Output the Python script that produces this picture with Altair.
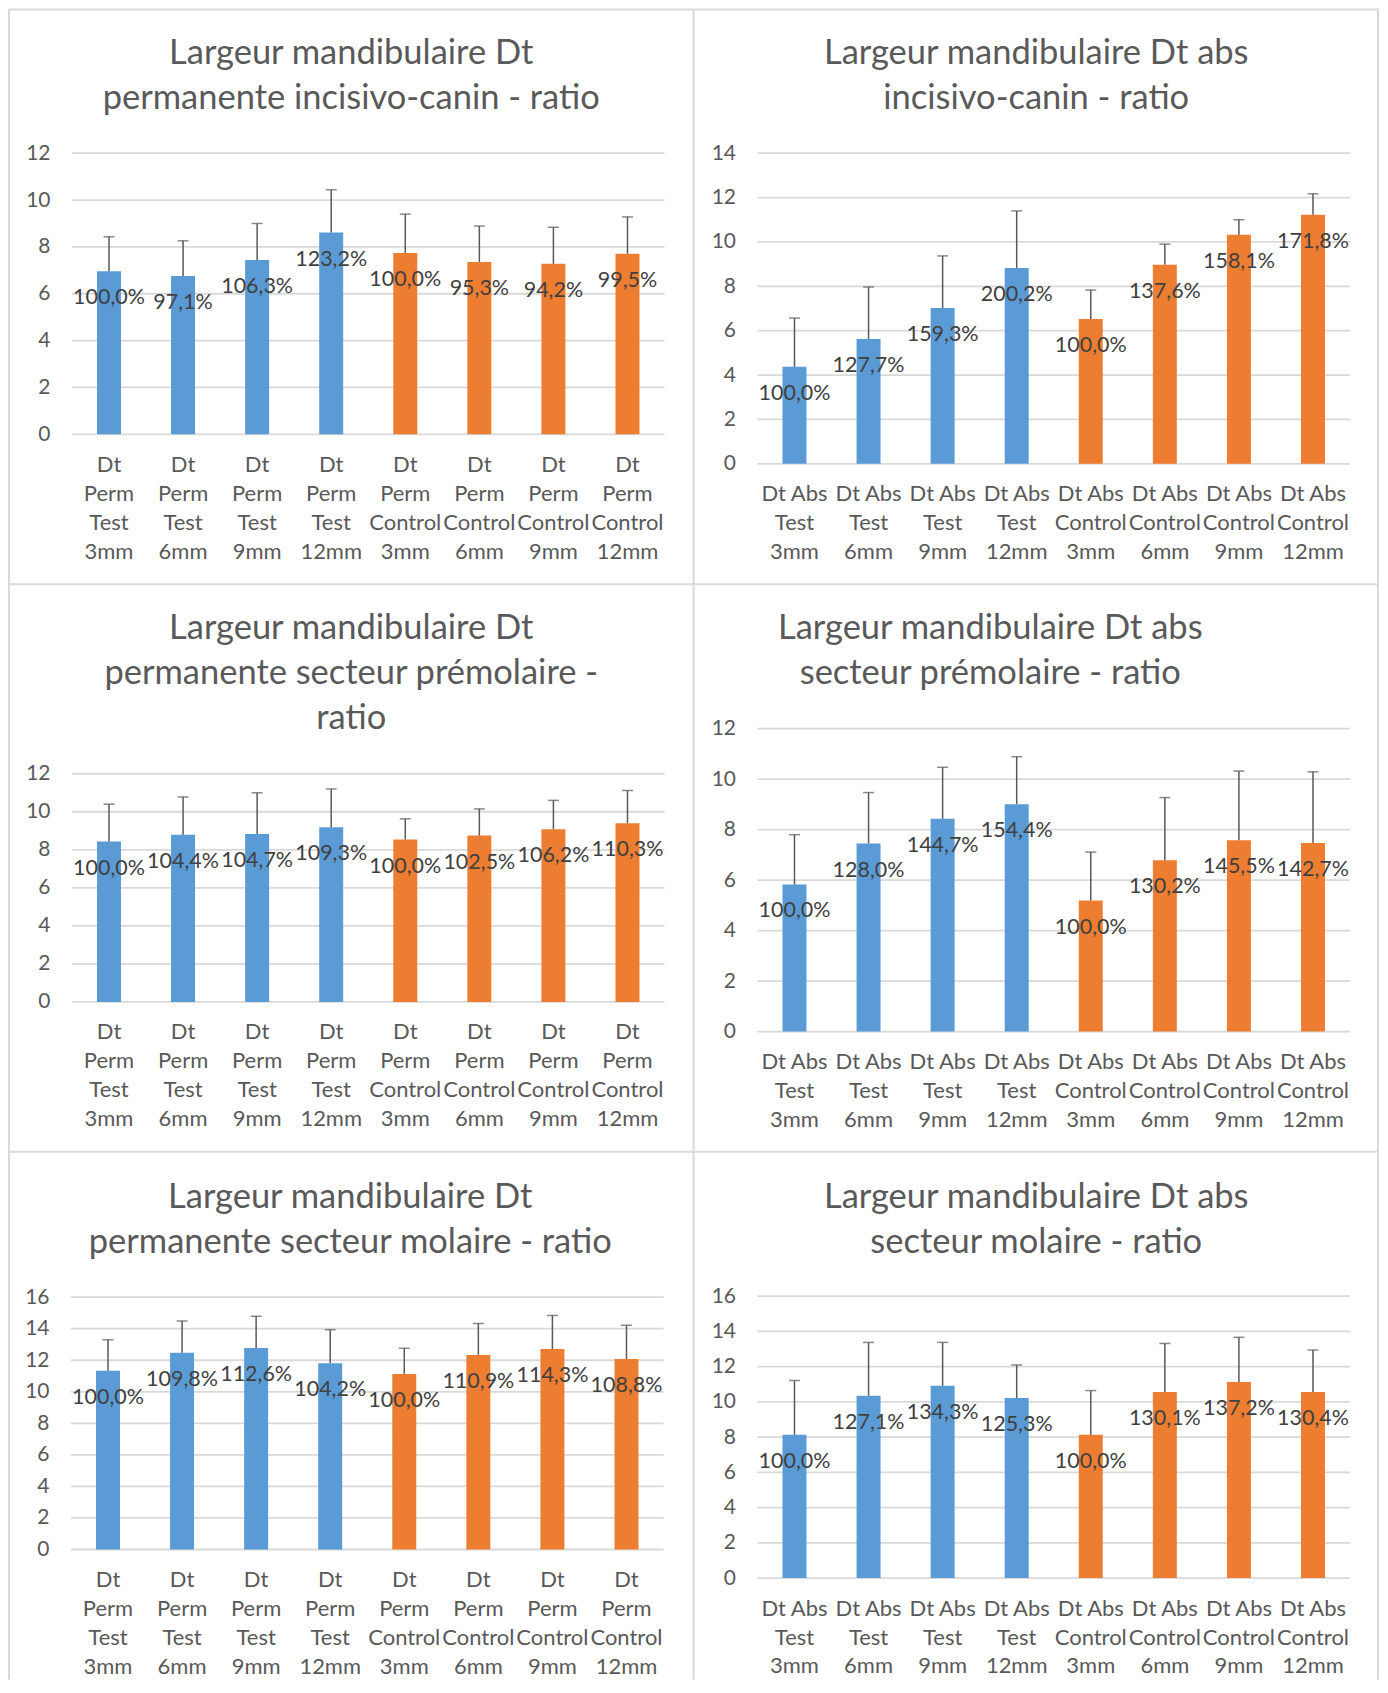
import altair as alt
import pandas as pd

FONT = "Lato"
BLUE = "#5B9BD5"
ORANGE = "#ED7D31"
TXT = "#595959"
LBL = "#404040"
GRID = "#D9D9D9"

GROUPS = ["Test"] * 4 + ["Control"] * 4
CATS_PERM = [
    "Dt\nPerm\nTest\n3mm", "Dt\nPerm\nTest\n6mm", "Dt\nPerm\nTest\n9mm", "Dt\nPerm\nTest\n12mm",
    "Dt\nPerm\nControl\n3mm", "Dt\nPerm\nControl\n6mm", "Dt\nPerm\nControl\n9mm", "Dt\nPerm\nControl\n12mm",
]
CATS_ABS = [
    "Dt Abs\nTest\n3mm", "Dt Abs\nTest\n6mm", "Dt Abs\nTest\n9mm", "Dt Abs\nTest\n12mm",
    "Dt Abs\nControl\n3mm", "Dt Abs\nControl\n6mm", "Dt Abs\nControl\n9mm", "Dt Abs\nControl\n12mm",
]

P1_TITLE = ["Largeur mandibulaire Dt", "permanente incisivo-canin - ratio"]
P1_VALUES = [6.96, 6.76, 7.44, 8.61, 7.74, 7.36, 7.28, 7.71]
P1_ERRORS = [1.47, 1.50, 1.56, 1.83, 1.66, 1.53, 1.56, 1.57]
P1_LABELS = ["100,0%", "97,1%", "106,3%", "123,2%", "100,0%", "95,3%", "94,2%", "99,5%"]

P2_TITLE = ["Largeur mandibulaire Dt abs", "incisivo-canin - ratio"]
P2_VALUES = [4.37, 5.62, 7.02, 8.83, 6.53, 8.97, 10.32, 11.22]
P2_ERRORS = [2.20, 2.35, 2.35, 2.57, 1.30, 0.93, 0.68, 0.95]
P2_LABELS = ["100,0%", "127,7%", "159,3%", "200,2%", "100,0%", "137,6%", "158,1%", "171,8%"]

P3_TITLE = ["Largeur mandibulaire Dt", "permanente secteur prémolaire -", "ratio"]
P3_VALUES = [8.43, 8.79, 8.83, 9.19, 8.54, 8.75, 9.08, 9.40]
P3_ERRORS = [1.97, 1.99, 2.17, 2.01, 1.09, 1.40, 1.52, 1.72]
P3_LABELS = ["100,0%", "104,4%", "104,7%", "109,3%", "100,0%", "102,5%", "106,2%", "110,3%"]

P4_TITLE = ["Largeur mandibulaire Dt abs", "secteur prémolaire - ratio"]
P4_VALUES = [5.83, 7.45, 8.43, 9.01, 5.19, 6.79, 7.58, 7.47]
P4_ERRORS = [1.97, 2.02, 2.04, 1.88, 1.92, 2.48, 2.74, 2.82]
P4_LABELS = ["100,0%", "128,0%", "144,7%", "154,4%", "100,0%", "130,2%", "145,5%", "142,7%"]

P5_TITLE = ["Largeur mandibulaire Dt", "permanente secteur molaire - ratio"]
P5_VALUES = [11.33, 12.47, 12.78, 11.81, 11.13, 12.34, 12.71, 12.08]
P5_ERRORS = [1.97, 2.02, 2.01, 2.13, 1.63, 1.99, 2.13, 2.14]
P5_LABELS = ["100,0%", "109,8%", "112,6%", "104,2%", "100,0%", "110,9%", "114,3%", "108,8%"]

P6_TITLE = ["Largeur mandibulaire Dt abs", "secteur molaire - ratio"]
P6_VALUES = [8.13, 10.35, 10.91, 10.21, 8.13, 10.56, 11.13, 10.56]
P6_ERRORS = [3.08, 3.02, 2.46, 1.88, 2.51, 2.75, 2.53, 2.38]
P6_LABELS = ["100,0%", "127,1%", "134,3%", "125,3%", "100,0%", "130,1%", "137,2%", "130,4%"]


def panel(title, cats, values, errors, labels, ymax, w, h, xr, yr, title_dx, title_off, right_border):
    df = pd.DataFrame({
        "cat": cats,
        "grp": GROUPS,
        "value": values,
        "top": [v + e for v, e in zip(values, errors)],
        "label": labels,
    })
    ticks = pd.DataFrame({"t": list(range(0, ymax + 1, 2))})
    xs = alt.Scale(domain=cats, range=xr, paddingInner=0, paddingOuter=0)
    ys = alt.Scale(domain=[0, ymax], range=yr, nice=False, zero=True)
    xaxis = alt.Axis(
        title=None, domain=False, ticks=False, labelAngle=0,
        labelExpr="split(datum.label, '\\n')", labelLineHeight=29,
        labelFontSize=22, labelFont=FONT, labelColor=TXT, labelPadding=20,
        labelBaseline="top", labelOverlap=False, labelLimit=0,
        offset=-(h - yr[0]),
    )
    yaxis = alt.Axis(
        title=None, grid=False, domain=False, ticks=False,
        values=list(range(0, ymax + 1, 2)),
        labelFontSize=21, labelFont=FONT, labelColor=TXT, labelPadding=22,
        offset=-xr[0],
    )
    X = alt.X("cat:N", scale=xs, sort=cats, axis=xaxis)
    base = alt.Chart(df)

    grid = alt.Chart(ticks).mark_rule(color=GRID, strokeWidth=1.8).encode(
        y=alt.Y("t:Q", scale=ys, axis=yaxis),
        x=alt.value(xr[0]), x2=alt.value(xr[1]),
    )
    bars = base.mark_bar(size=24).encode(
        x=X,
        y=alt.Y("value:Q", scale=ys, axis=yaxis),
        color=alt.Color("grp:N", scale=alt.Scale(domain=["Test", "Control"], range=[BLUE, ORANGE]), legend=None),
    )
    err = base.mark_rule(color=TXT, strokeWidth=1.5).encode(
        x=X, y=alt.Y("value:Q", scale=ys, axis=yaxis), y2="top:Q",
    )
    caps = base.mark_tick(color=TXT, thickness=1.5, size=11, orient="horizontal").encode(
        x=X, y=alt.Y("top:Q", scale=ys, axis=yaxis),
    )
    text = base.mark_text(dy=27, fontSize=21.5, font=FONT, color=LBL, baseline="middle").encode(
        x=X, y=alt.Y("value:Q", scale=ys, axis=yaxis), text="label:N",
    )
    one = alt.Chart(pd.DataFrame({"k": [0]}))
    left = one.mark_rule(color=GRID, strokeWidth=2).encode(x=alt.value(0), y=alt.value(0), y2=alt.value(h))
    topb = one.mark_rule(color=GRID, strokeWidth=2).encode(x=alt.value(0), x2=alt.value(w), y=alt.value(0))
    layers = [left, topb]
    if right_border:
        layers.append(one.mark_rule(color=GRID, strokeWidth=2).encode(
            x=alt.value(w - 1), y=alt.value(0), y2=alt.value(h)))
    layers += [grid, bars, err, caps, text]
    return alt.layer(*layers).properties(
        width=w, height=h,
        title=alt.TitleParams(
            text=title, anchor="middle", frame="group", orient="top",
            offset=-title_off, fontSize=34.5, font=FONT,
            color=TXT, fontWeight="normal", lineHeight=45, dx=title_dx,
        ),
    )


W0, W1 = 685, 686
H0, H1, H2 = 575, 568, 528

p1 = panel(P1_TITLE, CATS_PERM, P1_VALUES, P1_ERRORS, P1_LABELS, 12, W0, H0, [63, 656], [425, 143.7], 0, 108, False)
p2 = panel(P2_TITLE, CATS_ABS, P2_VALUES, P2_ERRORS, P2_LABELS, 14, W1, H0, [64, 657], [454.5, 143.7], 0, 108, True)
p3 = panel(P3_TITLE, CATS_PERM, P3_VALUES, P3_ERRORS, P3_LABELS, 12, W0, H1, [63, 656], [418, 189.7], 0, 153, False)
p4 = panel(P4_TITLE, CATS_ABS, P4_VALUES, P4_ERRORS, P4_LABELS, 12, W1, H1, [64, 657], [447.7, 144.6], -46, 108, True)
p5 = panel(P5_TITLE, CATS_PERM, P5_VALUES, P5_ERRORS, P5_LABELS, 16, W0, H2, [62, 655], [398, 145.5], -1, 110, False)
p6 = panel(P6_TITLE, CATS_ABS, P6_VALUES, P6_ERRORS, P6_LABELS, 16, W1, H2, [64, 657], [426.6, 144.4], 0, 110, True)

chart = alt.concat(p1, p2, p3, p4, p5, p6, columns=2, spacing=0, bounds="flush").properties(
    padding=0, background="white"
).configure_view(stroke=None)

chart.save("out.html", embed_options={"renderer": "svg", "actions": False})
